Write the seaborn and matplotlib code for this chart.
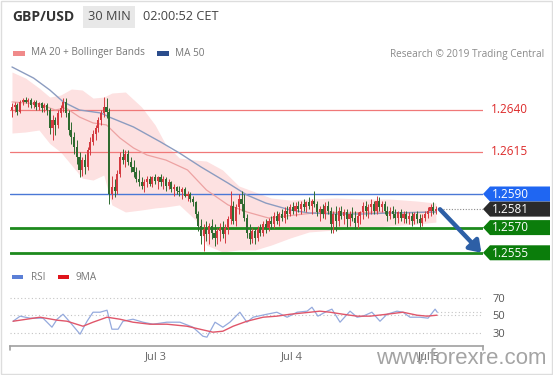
import numpy as np
import matplotlib
matplotlib.use("Agg")
import matplotlib.pyplot as plt
import seaborn as sns
from matplotlib.patches import Rectangle, Polygon

# ---------------- data ----------------
opens = [
    1.2640, 1.2642, 1.2643, 1.2639, 1.2645, 1.2646, 1.2645, 1.2646, 1.2643, 1.2645,
    1.2642, 1.2644, 1.2641, 1.2643, 1.2640, 1.2629, 1.2634, 1.2631, 1.2638, 1.2641,
    1.2645, 1.2638, 1.2628, 1.2624, 1.2618, 1.2612, 1.2604, 1.2610, 1.2606, 1.2616,
    1.2621, 1.2626, 1.2629, 1.2634, 1.2638, 1.2642, 1.2639, 1.2590, 1.2594, 1.2592,
    1.2602, 1.2612, 1.2610, 1.2614, 1.2609, 1.2606, 1.2603, 1.2599, 1.2597, 1.2595,
    1.2597, 1.2599, 1.2596, 1.2600, 1.2598, 1.2600, 1.2597, 1.2599, 1.2595, 1.2597,
    1.2593, 1.2594, 1.2592, 1.2591, 1.2593, 1.2589, 1.2590, 1.2587, 1.2585, 1.2578,
    1.2571, 1.2565, 1.2569, 1.2566, 1.2571, 1.2567, 1.2564, 1.2568, 1.2570, 1.2566,
    1.2570, 1.2575, 1.2583, 1.2574, 1.2582, 1.2587, 1.2584, 1.2576, 1.2567, 1.2563,
    1.2568, 1.2564, 1.2569, 1.2567, 1.2572, 1.2570, 1.2574, 1.2572, 1.2577, 1.2574,
    1.2578, 1.2576, 1.2580, 1.2578, 1.2582, 1.2580, 1.2583, 1.2581, 1.2584, 1.2582,
    1.2585, 1.2583, 1.2586, 1.2584, 1.2579, 1.2581, 1.2578, 1.2583, 1.2580, 1.2572,
    1.2578, 1.2574, 1.2580, 1.2577, 1.2579, 1.2575, 1.2578, 1.2576, 1.2573, 1.2577,
    1.2579, 1.2583, 1.2580, 1.2582, 1.2584, 1.2580, 1.2586, 1.2582, 1.2584, 1.2580,
    1.2577, 1.2580, 1.2578, 1.2576, 1.2579, 1.2576, 1.2578, 1.2575, 1.2577, 1.2574,
    1.2578, 1.2575, 1.2573, 1.2576, 1.2578, 1.2580, 1.2582, 1.2580]
closes = [
    1.2642, 1.2643, 1.2639, 1.2645, 1.2646, 1.2645, 1.2646, 1.2643, 1.2645, 1.2642,
    1.2644, 1.2641, 1.2643, 1.2640, 1.2629, 1.2634, 1.2631, 1.2638, 1.2641, 1.2645,
    1.2638, 1.2628, 1.2624, 1.2618, 1.2612, 1.2604, 1.2610, 1.2606, 1.2616, 1.2621,
    1.2626, 1.2629, 1.2634, 1.2638, 1.2642, 1.2639, 1.2590, 1.2594, 1.2592, 1.2602,
    1.2612, 1.2610, 1.2614, 1.2609, 1.2606, 1.2603, 1.2599, 1.2597, 1.2595, 1.2597,
    1.2599, 1.2596, 1.2600, 1.2598, 1.2600, 1.2597, 1.2599, 1.2595, 1.2597, 1.2593,
    1.2594, 1.2592, 1.2591, 1.2593, 1.2589, 1.2590, 1.2587, 1.2585, 1.2578, 1.2571,
    1.2565, 1.2569, 1.2566, 1.2571, 1.2567, 1.2564, 1.2568, 1.2570, 1.2566, 1.2570,
    1.2575, 1.2583, 1.2574, 1.2582, 1.2587, 1.2584, 1.2576, 1.2567, 1.2563, 1.2568,
    1.2564, 1.2569, 1.2567, 1.2572, 1.2570, 1.2574, 1.2572, 1.2577, 1.2574, 1.2578,
    1.2576, 1.2580, 1.2578, 1.2582, 1.2580, 1.2583, 1.2581, 1.2584, 1.2582, 1.2585,
    1.2583, 1.2586, 1.2584, 1.2579, 1.2581, 1.2578, 1.2583, 1.2580, 1.2572, 1.2578,
    1.2574, 1.2580, 1.2577, 1.2579, 1.2575, 1.2578, 1.2576, 1.2573, 1.2577, 1.2579,
    1.2583, 1.2580, 1.2582, 1.2584, 1.2580, 1.2586, 1.2582, 1.2584, 1.2580, 1.2577,
    1.2580, 1.2578, 1.2576, 1.2579, 1.2576, 1.2578, 1.2575, 1.2577, 1.2574, 1.2578,
    1.2575, 1.2573, 1.2576, 1.2578, 1.2580, 1.2582, 1.2580, 1.2581]
highs = [
    1.2644, 1.2645, 1.2644, 1.2646, 1.2647, 1.2648, 1.2647, 1.2647, 1.2646, 1.2646,
    1.2645, 1.2645, 1.2644, 1.2644, 1.2641, 1.2637, 1.2636, 1.2640, 1.2643, 1.2647,
    1.2647, 1.2640, 1.2633, 1.2627, 1.2622, 1.2615, 1.2612, 1.2614, 1.2618, 1.2624,
    1.2628, 1.2631, 1.2636, 1.2640, 1.2648, 1.2647, 1.2641, 1.2601, 1.2599, 1.2604,
    1.2615, 1.2617, 1.2616, 1.2616, 1.2612, 1.2610, 1.2606, 1.2604, 1.2600, 1.2599,
    1.2601, 1.2601, 1.2601, 1.2602, 1.2601, 1.2602, 1.2601, 1.2600, 1.2599, 1.2598,
    1.2596, 1.2595, 1.2595, 1.2594, 1.2594, 1.2592, 1.2591, 1.2589, 1.2586, 1.2580,
    1.2575, 1.2572, 1.2574, 1.2573, 1.2575, 1.2572, 1.2570, 1.2573, 1.2574, 1.2572,
    1.2577, 1.2592, 1.2586, 1.2584, 1.2590, 1.2592, 1.2590, 1.2578, 1.2572, 1.2570,
    1.2570, 1.2571, 1.2572, 1.2574, 1.2575, 1.2576, 1.2577, 1.2579, 1.2580, 1.2579,
    1.2581, 1.2582, 1.2583, 1.2584, 1.2585, 1.2585, 1.2586, 1.2586, 1.2587, 1.2586,
    1.2588, 1.2587, 1.2592, 1.2586, 1.2583, 1.2584, 1.2585, 1.2586, 1.2582, 1.2580,
    1.2583, 1.2582, 1.2583, 1.2581, 1.2581, 1.2580, 1.2582, 1.2580, 1.2579, 1.2580,
    1.2585, 1.2586, 1.2584, 1.2587, 1.2586, 1.2589, 1.2588, 1.2586, 1.2586, 1.2583,
    1.2582, 1.2583, 1.2581, 1.2580, 1.2581, 1.2580, 1.2580, 1.2579, 1.2579, 1.2579,
    1.2580, 1.2578, 1.2578, 1.2580, 1.2582, 1.2584, 1.2585, 1.2583]
lows = [
    1.2636, 1.2639, 1.2637, 1.2638, 1.2643, 1.2644, 1.2642, 1.2641, 1.2641, 1.2640,
    1.2640, 1.2639, 1.2639, 1.2637, 1.2626, 1.2622, 1.2625, 1.2629, 1.2636, 1.2639,
    1.2636, 1.2625, 1.2620, 1.2614, 1.2608, 1.2600, 1.2601, 1.2602, 1.2604, 1.2613,
    1.2619, 1.2622, 1.2627, 1.2631, 1.2636, 1.2635, 1.2584, 1.2587, 1.2588, 1.2590,
    1.2600, 1.2608, 1.2606, 1.2607, 1.2603, 1.2600, 1.2597, 1.2595, 1.2593, 1.2591,
    1.2594, 1.2595, 1.2594, 1.2596, 1.2593, 1.2595, 1.2593, 1.2592, 1.2593, 1.2591,
    1.2589, 1.2590, 1.2589, 1.2587, 1.2588, 1.2586, 1.2585, 1.2583, 1.2576, 1.2568,
    1.2560, 1.2556, 1.2562, 1.2560, 1.2563, 1.2559, 1.2560, 1.2562, 1.2564, 1.2561,
    1.2566, 1.2572, 1.2572, 1.2571, 1.2578, 1.2580, 1.2574, 1.2564, 1.2560, 1.2561,
    1.2560, 1.2562, 1.2565, 1.2565, 1.2567, 1.2568, 1.2569, 1.2570, 1.2572, 1.2571,
    1.2574, 1.2573, 1.2575, 1.2577, 1.2578, 1.2577, 1.2579, 1.2578, 1.2580, 1.2579,
    1.2581, 1.2578, 1.2582, 1.2577, 1.2574, 1.2576, 1.2575, 1.2578, 1.2567, 1.2567,
    1.2568, 1.2571, 1.2575, 1.2572, 1.2570, 1.2571, 1.2574, 1.2569, 1.2570, 1.2572,
    1.2575, 1.2577, 1.2576, 1.2578, 1.2578, 1.2578, 1.2580, 1.2579, 1.2578, 1.2574,
    1.2575, 1.2576, 1.2572, 1.2573, 1.2574, 1.2573, 1.2573, 1.2572, 1.2571, 1.2572,
    1.2573, 1.2569, 1.2571, 1.2574, 1.2576, 1.2577, 1.2578, 1.2578]

# Bollinger bands (MA 20 +/- 2 sd), read at sample bars
band_idx = [0, 5, 10, 14, 18, 22, 26, 30, 34, 37, 42, 48, 53, 57, 62, 68, 72, 78,
            84, 90, 96, 103, 110, 120, 130, 140, 150, 157]
bb_upper = [1.26626, 1.26590, 1.26531, 1.26477, 1.26489, 1.26525, 1.26519, 1.26471,
            1.26477, 1.26501, 1.26507, 1.26418, 1.26311, 1.26192, 1.26114, 1.26102,
            1.26096, 1.26043, 1.25948, 1.25912, 1.25876, 1.25864, 1.25870, 1.25876,
            1.25870, 1.25870, 1.25858, 1.25846]
bb_lower = [1.26263, 1.26269, 1.26281, 1.26200, 1.26150, 1.26073, 1.25995, 1.25983,
            1.26013, 1.25835, 1.25793, 1.25805, 1.25817, 1.25823, 1.25835, 1.25745,
            1.25596, 1.25555, 1.25567, 1.25567, 1.25596, 1.25638, 1.25674, 1.25686,
            1.25698, 1.25710, 1.25721, 1.25733]
ma20_idx = [0, 10, 16, 20, 25, 30, 35, 40, 45, 50, 57, 65, 72, 80, 87, 95, 105, 115,
            125, 135, 145, 157]
ma20 = [1.26448, 1.26436, 1.26400, 1.26412, 1.26358, 1.26323, 1.26311, 1.26233,
        1.26174, 1.26132, 1.26102, 1.26043, 1.25924, 1.25835, 1.25793, 1.25757,
        1.25775, 1.25793, 1.25787, 1.25793, 1.25787, 1.25793]
ma50_idx = [0, 8, 14, 19, 25, 33, 36, 45, 55, 62, 70, 80, 87, 94, 103, 110, 120, 130,
            140, 157]
ma50 = [1.26656, 1.26590, 1.26519, 1.26448, 1.26400, 1.26382, 1.26358, 1.26299,
        1.26210, 1.26144, 1.26061, 1.25965, 1.25894, 1.25846, 1.25805, 1.25787,
        1.25781, 1.25781, 1.25787, 1.25793]

# key levels
resistance_levels = [1.2640, 1.2615]
pivot_level = 1.2590
last_price = 1.2581
support_levels = [1.2570, 1.2555]

# RSI panel
rsi_idx = [0.4, 3, 6.7, 11.5, 14.8, 16.7, 18.9, 21.5, 25.2, 27.8, 30, 32.6, 35.2, 37,
           39.3, 41.1, 44.8, 48.5, 52.2, 57.4, 62.2, 67, 70.7, 72.2, 75.2, 78.1, 80.7,
           84.4, 87, 89.3, 94.4, 98.1, 101.9, 105.6, 109.3, 111.1, 113.3, 116.7, 118.5,
           121.5, 125.2, 127.8, 130, 133.3, 136.3, 138.9, 142.6, 144.8, 147.4, 151.1,
           154.1, 156.7, 157.5]
rsi = [43.1, 48.9, 46.6, 46.6, 36.3, 45.4, 51.1, 42.0, 28.3, 43.1, 53.4, 53.4, 55.7,
       34.0, 34.0, 43.1, 45.4, 42.0, 39.7, 42.0, 42.0, 36.3, 26.0, 24.9, 42.0, 36.3,
       42.0, 53.4, 42.0, 47.7, 51.1, 53.4, 47.7, 53.4, 54.6, 59.1, 48.9, 54.6, 56.9,
       42.0, 54.6, 47.7, 48.9, 53.4, 43.1, 51.1, 54.6, 53.4, 47.7, 47.7, 46.6, 56.9,
       53.4]
ma9_idx = [0.4, 10.4, 16.7, 20.4, 26.3, 30, 35.2, 40, 44.8, 51.1, 57.4, 64.8, 69.6,
           74.4, 78.1, 81.9, 87, 93, 98.1, 103, 110.4, 114, 117.8, 122.6, 127.8, 132.6,
           138.9, 144.8, 150, 153.7, 157.4]
rsi_ma9 = [43.1, 47.7, 44.3, 43.1, 37.4, 42.0, 47.7, 45.4, 42.0, 39.7, 39.7, 37.4,
           34.0, 30.6, 31.7, 37.4, 43.1, 47.7, 48.9, 51.1, 53.4, 54.6, 53.4, 51.1, 48.9,
           48.9, 51.1, 53.4, 50.0, 48.9, 50.0]
rsi_levels = [30, 50, 70]

date_labels = ["Jul 3", "Jul 4", "Jul 5"]
date_idx = [53.3, 103.7, 154.4]

# ---------------- styling ----------------
sns.set_theme(style="white")
plt.rcParams['font.family'] = ['Open Sans', 'DejaVu Sans']

W, H = 553, 375
fig = plt.figure(figsize=(W / 100, H / 100), dpi=100)
fig.patch.set_facecolor('white')

PX_PER_BAR = 2.7
L, R = 10, 483
x0 = -(12 - L) / PX_PER_BAR
x1 = x0 + (R - L) / PX_PER_BAR


def add_ax(top, bottom):
    return fig.add_axes([L / W, 1 - bottom / H, (R - L) / W, (bottom - top) / H])


# ---------------- main price panel ----------------
ax = add_ax(62, 262)
ax.set_xlim(x0, x1)
ax.set_ylim(1.254952, 1.266857)
ax.axis('off')

ax.fill_between(band_idx, bb_upper, bb_lower, color='#fde1e1', lw=0, zorder=1)
for lv in resistance_levels:
    ax.axhline(lv, color='#f07878', lw=0.9, zorder=2)
ax.axhline(pivot_level, color='#4a78d6', lw=1.0, zorder=2)
for lv in support_levels:
    ax.axhline(lv, color='#1d8a1d', lw=2.0, zorder=2)

sns.lineplot(x=ma20_idx, y=ma20, ax=ax, color='#eda2a2', lw=0.9, zorder=3)
sns.lineplot(x=ma50_idx, y=ma50, ax=ax, color='#8c9cc0', lw=1.0, zorder=3)

o = np.array(opens); c = np.array(closes); h = np.array(highs); lo = np.array(lows)
idx = np.arange(len(c))
cols = np.where(c >= o, '#d43a40', '#2e6b30')
ax.vlines(idx, lo, h, colors=cols, lw=0.7, zorder=4)
ax.bar(idx, np.maximum(np.abs(c - o), 0.00004), bottom=np.minimum(o, c),
       width=0.75, color=cols, lw=0, zorder=5)

ax.hlines(last_price, idx[-1] + 2.5, x1, colors='#8a8a8a', lw=0.8,
          linestyles=(0, (1, 1.5)), zorder=3)
ax.annotate('', xy=(x1 - 0.6, support_levels[1]), xytext=(idx[-1] + 1.5, last_price - 0.00001),
            arrowprops=dict(arrowstyle='-|>,head_length=0.55,head_width=0.38',
                            color='#2d5fa6', lw=3.2, shrinkA=0, shrinkB=0),
            annotation_clip=False, zorder=6)
ax.set_xlabel(''); ax.set_ylabel('')

# ---------------- RSI panel ----------------
ax2 = add_ax(285, 346)
ax2.set_xlim(x0, x1)
ax2.set_ylim(14.8, 84.5)
ax2.set_facecolor('white')
for lv in rsi_levels:
    ax2.axhline(lv, color='#c4c4c4', lw=0.8, ls=(0, (1, 2.2)), zorder=1)
sns.lineplot(x=rsi_idx, y=rsi, ax=ax2, color='#95aadd', lw=0.9, zorder=3)
sns.lineplot(x=ma9_idx, y=rsi_ma9, ax=ax2, color='#e0566a', lw=1.0, zorder=4)
ax2.hlines(rsi[-1], rsi_idx[-1], x1, colors='#c4c4c4', lw=0.8,
           linestyles=(0, (1, 2.2)), zorder=1)
for s in ['top', 'left', 'right']:
    ax2.spines[s].set_visible(False)
ax2.spines['bottom'].set_color('#a0a0a0')
ax2.spines['bottom'].set_linewidth(1.2)
ax2.set_xticks(date_idx)
ax2.set_xticklabels(date_labels)
ax2.yaxis.tick_right()
ax2.set_yticks(rsi_levels)
ax2.set_yticklabels([str(v) for v in rsi_levels])
ax2.tick_params(axis='x', length=0, pad=4, labelsize=8, labelcolor='#666666')
ax2.tick_params(axis='y', length=0, pad=7, labelsize=8, labelcolor='#555555')
ax2.set_xlabel(''); ax2.set_ylabel('')

# ---------------- overlay (pixel coordinates) ----------------
ov = fig.add_axes([0, 0, 1, 1])
ov.set_xlim(0, W); ov.set_ylim(H, 0)
ov.axis('off')


def ypx(axis, val):
    return H - axis.transData.transform((0, val))[1]


# header
ov.text(12, 17, 'GBP/USD', fontsize=10, fontweight='bold', color='#333333', va='center')
ov.add_patch(Rectangle((83, 6), 52, 22, fc='#e8e8e8', ec='none'))
ov.text(109, 17, '30 MIN', fontsize=9.2, color='#444444', va='center', ha='center')
ov.text(143, 17, '02:00:52 CET', fontsize=9.2, color='#444444', va='center')

# legends
ov.add_patch(Rectangle((13, 51), 12, 4.5, fc='#f08a8a', ec='none'))
ov.text(31, 53, 'MA 20 + Bollinger Bands', fontsize=7.2, color='#777777', va='center')
ov.add_patch(Rectangle((157, 51), 12, 4.5, fc='#2b4d8c', ec='none'))
ov.text(175, 53, 'MA 50', fontsize=7.2, color='#777777', va='center')
ov.text(544, 54, 'Research \u00a9 2019 Trading Central', fontsize=7.2, color='#8a8a8a',
        va='center', ha='right')

ov.add_patch(Rectangle((12, 274.5), 11, 4.5, fc='#5b7fd6', ec='none'))
ov.text(31, 277, 'RSI', fontsize=7.2, color='#777777', va='center')
ov.add_patch(Rectangle((58, 274.5), 11, 4.5, fc='#e0141c', ec='none'))
ov.text(76, 277, '9MA', fontsize=7.2, color='#777777', va='center')

# level labels
for lv in resistance_levels:
    ov.text(491, ypx(ax, lv), f'{lv:.4f}', fontsize=8.5, color='#dd2a2a', va='center')


def tag(price, color):
    yc = ypx(ax, price)
    hh = 7.5
    pts = [(483, yc), (490, yc - hh), (550, yc - hh), (550, yc + hh), (490, yc + hh)]
    ov.add_patch(Polygon(pts, closed=True, fc=color, ec='none'))
    ov.text(492, yc + 0.3, f'{price:.4f}', fontsize=8.5, color='white', va='center')


tag(pivot_level, '#1f66f2')
tag(last_price, '#2b2b2b')
for lv in support_levels:
    tag(lv, '#0b7d0b')

# axis end ticks of the time axis
for xp in (L, R):
    ov.plot([xp, xp], [346, 350], color='#a0a0a0', lw=1.2)

# watermark
ov.text(461, 359, 'www.forexre.com', fontsize=16, color='#9a9a9a', ha='center',
        va='center', family=['Liberation Sans', 'DejaVu Sans'], alpha=0.9)

# frame
ov.add_patch(Rectangle((0.5, 0.5), W - 1.5, H - 1.5, fill=False, ec='#dddddd', lw=1))

fig.savefig('out.png', dpi=100, facecolor='white')
